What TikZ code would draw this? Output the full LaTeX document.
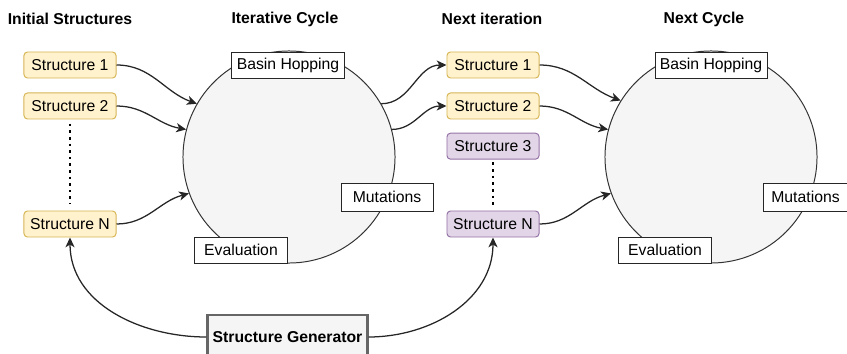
\documentclass[tikz,border=0pt]{standalone}
\usepackage{fontspec}
\setmainfont{Liberation Sans}
\usetikzlibrary{arrows.meta, positioning}
\definecolor{cyellow}{HTML}{FFF2CC}
\definecolor{cyellowd}{HTML}{D6B656}
\definecolor{cpurple}{HTML}{E1D5E7}
\definecolor{cpurpled}{HTML}{9673A6}
\definecolor{cgray}{HTML}{F5F5F5}
\definecolor{cgrayd}{HTML}{666666}

\begin{document}
\begin{tikzpicture}[
  x=0.025cm, y=0.025cm,
  node distance = 0.35cm,
  sbox/.style  = {rectangle, rounded corners=2.5pt, line width=0.7pt,
                  minimum width=2.3cm, minimum height=0.65cm, inner sep=0pt,
                  font=\fontsize{11.2}{13}\selectfont},
  ybox/.style  = {sbox, fill=cyellow, draw=cyellowd},
  pbox/.style  = {sbox, fill=cpurple, draw=cpurpled},
  tag/.style   = {rectangle, draw=black!85, fill=white, line width=0.7pt,
                  minimum height=0.65cm, inner sep=0pt,
                  font=\fontsize{11.2}{13}\selectfont},
  cyc/.style   = {circle, draw=black!80, fill=cgray, line width=0.7pt,
                  minimum size=5.3cm, inner sep=0pt},
  ttl/.style   = {font=\fontsize{11.2}{13}\selectfont\bfseries},
  arr/.style   = {-{Stealth[length=7pt, width=6.5pt, inset=2pt]}, line width=0.9pt, black!85},
  dots/.style  = {line width=1.9pt, dash pattern=on 1.9pt off 2.8pt},
]
\useasboundingbox (0,0) rectangle (847,-354);
% Titles
\node[ttl] (t1) at (70,-19)  {Initial Structures};
\node[ttl] (t2) at (285,-19) {Iterative Cycle};
\node[ttl] (t3) at (492,-19) {Next iteration};
\node[ttl] (t4) at (704,-19) {Next Cycle};
% Initial structures
\node[ybox] (s1) at (70,-65) {Structure 1};
\node[ybox, below=of s1] (s2) {Structure 2};
\node[ybox] (sn) at (70,-224) {Structure N};
% Cycle 1
\node[cyc] (c1) at (289,-157) {};
\node[tag, minimum width=2.8cm]  (bh1) at (288,-65)  {Basin Hopping};
\node[tag, minimum width=2.33cm] (ev1) at (241,-250) {Evaluation};
\node[tag, minimum width=2.3cm, minimum height=0.7cm] (mu1) at (387,-197) {Mutations};
% Next iteration
\node[ybox] (ns1) at (493,-65) {Structure 1};
\node[ybox, below=of ns1] (ns2) {Structure 2};
\node[pbox, below=0.33cm of ns2] (ns3) {Structure 3};
\node[pbox] (nsn) at (493,-224) {Structure N};
% Cycle 2
\node[cyc] (c2) at (711,-157) {};
\node[tag, minimum width=2.8cm]  (bh2) at (711,-65)  {Basin Hopping};
\node[tag, minimum width=2.33cm] (ev2) at (665,-250) {Evaluation};
\node[tag, minimum width=2.1cm, minimum height=0.7cm] (mu2) at (805.5,-197) {Mutations};
% Generator
\node[sbox, rounded corners=0pt, fill=cgray, draw=cgrayd, line width=1.5pt,
      minimum width=4.0cm, minimum height=1.1cm, font=\fontsize{11.2}{13}\selectfont\bfseries]
      (gen) at (287.5,-337) {Structure Generator};
% Dots
\draw[dots] ([yshift=-3pt]s2.south) -- ([yshift=5pt]sn.north);
\draw[dots] ([yshift=-2pt]ns3.south) -- ([yshift=3pt]nsn.north);
% Arrows
\draw[arr] (s1.east) to[out=0, in=160] (c1.150);
\draw[arr] (s2.east) to[out=0, in=170] (c1.165);
\draw[arr] (sn.east) to[out=0, in=195] (c1.200);
\draw[arr] (c1.30) to[out=0, in=180] (ns1.west);
\draw[arr] (c1.15) to[out=0, in=180] (ns2.west);
\draw[arr] (ns1.east) to[out=0, in=160] (c2.148);
\draw[arr] (ns2.east) to[out=0, in=170] (c2.165);
\draw[arr] (nsn.east) to[out=0, in=195] (c2.200);
\draw[arr] (gen.west) to[out=180, in=-90] (sn.south);
\draw[arr] (gen.east) to[out=0, in=-90] (nsn.south);
\end{tikzpicture}
\end{document}
